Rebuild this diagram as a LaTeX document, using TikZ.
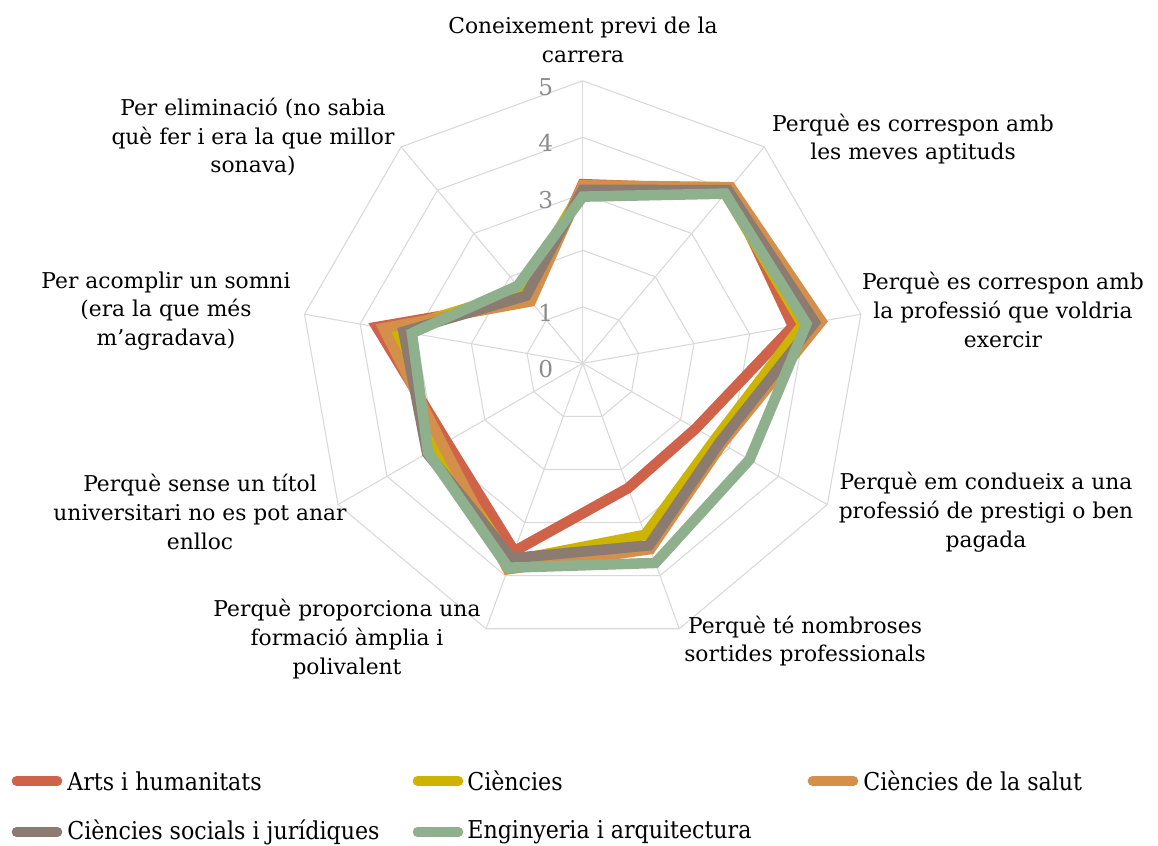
\documentclass[tikz,border=0pt]{standalone}
\usepackage{fontspec}
\setmainfont{DejaVu Serif}
\newfontfamily\legendfont[FakeStretch=0.9]{DejaVu Serif}
\usepackage{xcolor}

\definecolor{arts}{HTML}{D0624A}
\definecolor{ciencies}{HTML}{CCB400}
\definecolor{salut}{HTML}{D4904A}
\definecolor{socials}{HTML}{8C7B70}
\definecolor{enginy}{HTML}{8FB08C}
\definecolor{gridgray}{HTML}{D9D9D9}
\definecolor{levelgray}{HTML}{8C8C8C}

\begin{document}
\begin{tikzpicture}[x=0.02cm, y=-0.02cm,
	gridline/.style={draw=gridgray, line width=0.6pt},
	series/.style={line width=6pt},
	catlabel/.style={align=center, inner sep=0pt, font=\fontsize{12.4}{16.4}\selectfont},
	levellabel/.style={text=levelgray, inner sep=0pt, font=\fontsize{13.2}{13.2}\selectfont},
	legendtext/.style={anchor=west, inner sep=0pt, font=\legendfont\fontsize{14}{16}\selectfont},
	swatch/.style={line width=5.5pt, line cap=round}]
	% Page:
	\fill[white] (0,0) rectangle (1158,845);
	\useasboundingbox (0,0) rectangle (1158,845);
	% Radar grid, levels and series:
	\begin{scope}[shift={(582.7,363.3)}, yscale=-1]
		\foreach \lv in {1,...,5}
			\draw[gridline] (90:{\lv*56.5}) \foreach \k in {1,...,8}{ -- ({90-40*\k}:{\lv*56.5}) } -- cycle;
		\foreach \k in {0,...,8}
			\draw[gridline] (0,0) -- ({90-40*\k}:{5*56.5});
		\foreach \lv in {0,...,5}
			\node[levellabel] (lv\lv) at (-37,{\lv*56.5-6}) {\lv};
		\draw[series, arts] (90:{3.17*56.5}) \foreach \v [count=\k] in {4.02,3.78,2.31,2.35,3.54,2.78,3.70,1.45}{ -- ({90-40*\k}:{\v*56.5}) } -- cycle;
		\draw[series, ciencies] (90:{3.08*56.5}) \foreach \v [count=\k] in {3.93,3.95,2.70,3.23,3.72,3.00,3.37,1.67}{ -- ({90-40*\k}:{\v*56.5}) } -- cycle;
		\draw[series, salut] (90:{3.15*56.5}) \foreach \v [count=\k] in {4.07,4.29,2.85,3.50,3.88,2.87,3.58,1.43}{ -- ({90-40*\k}:{\v*56.5}) } -- cycle;
		\draw[series, socials] (90:{3.07*56.5}) \foreach \v [count=\k] in {4.00,4.17,2.80,3.43,3.67,3.18,3.22,1.56}{ -- ({90-40*\k}:{\v*56.5}) } -- cycle;
		\draw[series, enginy] (90:{2.95*56.5}) \foreach \v [count=\k] in {3.92,4.02,3.41,3.76,3.85,3.16,3.07,1.79}{ -- ({90-40*\k}:{\v*56.5}) } -- cycle;
	\end{scope}
	% Category labels:
	\node[catlabel] (cat0) at (583,40) {Coneixement previ de la\\carrera};
	\node[catlabel] (cat1) at (913,139) {Perquè es correspon amb\\les meves aptituds};
	\node[catlabel] (cat2) at (1003,310) {Perquè es correspon amb\\la professió que voldria\\exercir};
	\node[catlabel] (cat3) at (986,512) {Perquè em condueix a una\\professió de prestigi o ben\\pagada};
	\node[catlabel] (cat4) at (805,641) {Perquè té nombroses\\sortides professionals};
	\node[catlabel] (cat5) at (347,639) {Perquè proporciona una\\formació àmplia i\\polivalent};
	\node[catlabel] (cat6) at (200,512) {Perquè sense un títol\\universitari no es pot anar\\enlloc};
	\node[catlabel] (cat7) at (166,311) {Per acomplir un somni\\(era la que més\\m’agradava)};
	\node[catlabel] (cat8) at (253,137) {Per eliminació (no sabia\\què fer i era la que millor\\sonava)};
	% Legend:
	\node[legendtext] (leg1) at (67,781) {Arts i humanitats};
	\node[legendtext] (leg2) at (467,781) {Ciències};
	\node[legendtext] (leg3) at (863,781) {Ciències de la salut};
	\node[legendtext] (leg4) at (67,832) {Ciències socials i jurídiques};
	\node[legendtext] (leg5) at (467,832) {Enginyeria i arquitectura};
	\coordinate (sw1a) at (16.5,781); \coordinate (sw1b) at (57.5,781);
	\coordinate (sw2a) at (417.5,781); \coordinate (sw2b) at (458.5,781);
	\coordinate (sw3a) at (812.5,781); \coordinate (sw3b) at (853.5,781);
	\coordinate (sw4a) at (16.5,832); \coordinate (sw4b) at (57.5,832);
	\coordinate (sw5a) at (417.5,832); \coordinate (sw5b) at (458.5,832);
	\draw[swatch, arts] (sw1a) -- (sw1b);
	\draw[swatch, ciencies] (sw2a) -- (sw2b);
	\draw[swatch, salut] (sw3a) -- (sw3b);
	\draw[swatch, socials] (sw4a) -- (sw4b);
	\draw[swatch, enginy] (sw5a) -- (sw5b);
\end{tikzpicture}
\end{document}
